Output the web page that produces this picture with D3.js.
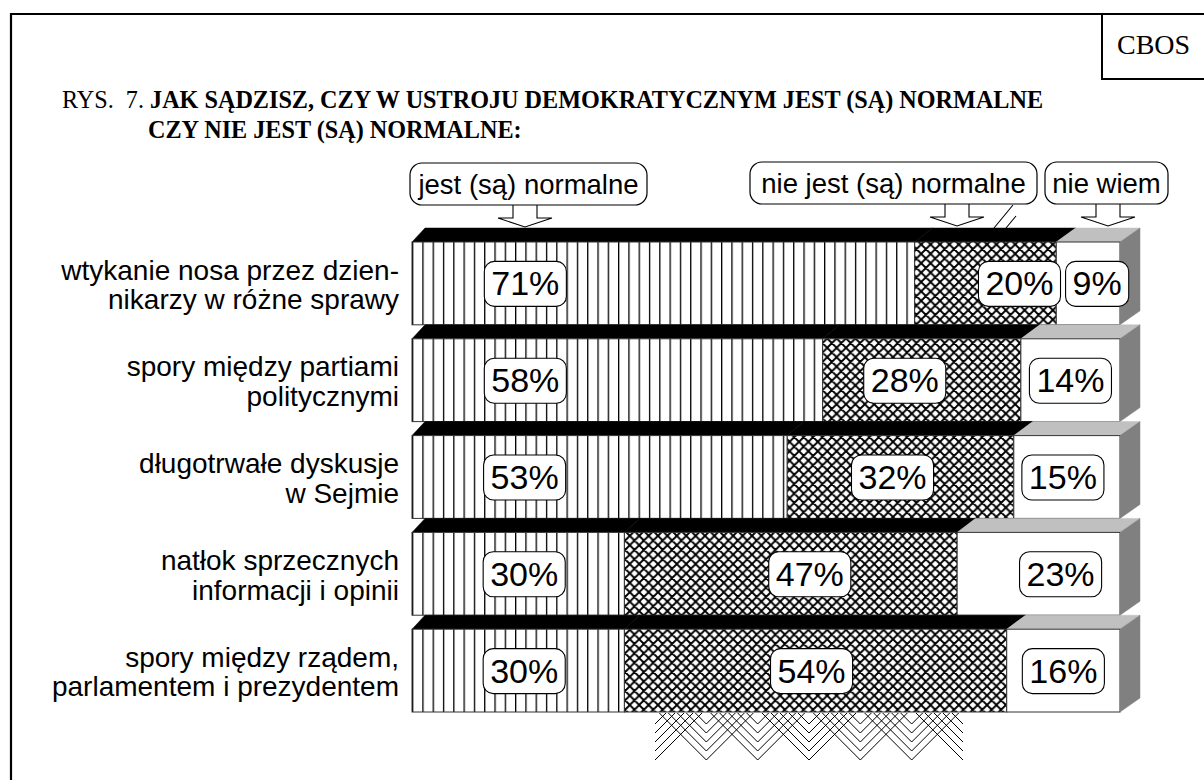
<!DOCTYPE html>
<html>
<head>
<meta charset="utf-8">
<script src="https://cdn.jsdelivr.net/npm/d3@7"></script>
<style>
  body { margin: 0; background: #fff; }
  svg { display: block; }
</style>
</head>
<body>
<div id="chart"></div>
<script>
// ========= Data ========= //
const categories = [
  ['wtykanie nosa przez dzien-', 'nikarzy w różne sprawy'],
  ['spory między partiami', 'politycznymi'],
  ['długotrwałe dyskusje', 'w Sejmie'],
  ['natłok sprzecznych', 'informacji i opinii'],
  ['spory między rządem,', 'parlamentem i prezydentem']
];
const seriesNames = ['jest (są) normalne', 'nie jest (są) normalne', 'nie wiem'];
const jest = [71, 58, 53, 30, 30];
const nieJest = [20, 28, 32, 47, 54];
const nieWiem = [9, 14, 15, 23, 16];

// label nudges (px) from the segment centre
const labelNudge = [
  [-138, -92, -75, 6, 6],
  [34, -17, -8, 19, -4],
  [9, 0, -4, 22, 0]
];

// ========= Setup ========= //
const width = 1204, height = 780;
const sans = '"Liberation Sans", Arial, sans-serif';
const serif = '"Liberation Serif", "Times New Roman", serif';
const keys = ['jest', 'nieJest', 'nieWiem'];
const rows = categories.map((c, i) => ({ i, jest: jest[i], nieJest: nieJest[i], nieWiem: nieWiem[i] }));
const stacked = d3.stack().keys(keys)(rows);

const x = d3.scaleLinear().domain([0, 100]).range([412, 1120]);
const y = d3.scaleBand().domain(d3.range(categories.length)).range([228, 712]);
const depth = 14;
const dx = v => 13 + 7 * (v - x(0)) / (x(100) - x(0));

const svg = d3.select('#chart').append('svg')
  .attr('width', width)
  .attr('height', height);

// ========= Patterns ========= //
const defs = svg.append('defs');
const stripes = defs.append('pattern')
  .attr('id', 'stripes').attr('patternUnits', 'userSpaceOnUse')
  .attr('width', 10.3).attr('height', 10);
stripes.append('rect').attr('width', 10.3).attr('height', 10).attr('fill', '#fff');
stripes.append('rect').attr('x', 0).attr('width', 1.3).attr('height', 10).attr('fill', '#000');

const hatch = defs.append('pattern')
  .attr('id', 'hatch').attr('patternUnits', 'userSpaceOnUse')
  .attr('width', 9.4).attr('height', 9.4);
hatch.append('rect').attr('width', 9.4).attr('height', 9.4).attr('fill', '#fff');
hatch.append('path')
  .attr('d', 'M-2,-2L11.4,11.4M-2,11.4L11.4,-2M-2,7.4L2,11.4M7.4,-2L11.4,2M-2,2L2,-2M7.4,11.4L11.4,7.4')
  .attr('stroke', '#000').attr('stroke-width', 1.9);

const frontFill = ['url(#stripes)', 'url(#hatch)', '#fff'];
const topFill = ['#000', '#000', '#c0c0c0'];

// ========= Frame ========= //
svg.append('path')
  .attr('d', `M11,${height}V14H${width}`)
  .attr('fill', 'none').attr('stroke', '#000').attr('stroke-width', 2.2);
svg.append('path')
  .attr('d', `M1102,14V79H${width}`)
  .attr('fill', 'none').attr('stroke', '#000').attr('stroke-width', 2);
svg.append('text')
  .attr('x', 1117).attr('y', 54)
  .attr('font-family', serif).attr('font-size', 28)
  .text('CBOS');

// ========= Title ========= //
const t1 = svg.append('text')
  .attr('x', 62).attr('y', 108)
  .attr('font-family', serif).attr('font-size', 24.2);
t1.append('tspan').text('RYS.\u00a0\u00a07. ');
t1.append('tspan').attr('font-weight', 'bold')
  .text('JAK SĄDZISZ, CZY W USTROJU DEMOKRATYCZNYM JEST (SĄ) NORMALNE');
svg.append('text')
  .attr('x', 148).attr('y', 138)
  .attr('font-family', serif).attr('font-size', 24.2).attr('font-weight', 'bold')
  .text('CZY NIE JEST (SĄ) NORMALNE:');

// ========= Legend callouts ========= //
const legend = [
  { box: [410, 163, 237, 42], arrow: 525 },
  { box: [750, 162, 287, 42], arrow: 957 },
  { box: [1045, 162, 123, 42], arrow: 1108 }
];
legend.forEach((l, k) => {
  const [bx, by, bw, bh] = l.box;
  const bb = by + bh;
  const cx = l.arrow;
  svg.append('path')
    .attr('d', `M${cx - 12},${bb}V${bb + 13}H${cx - 27}L${cx},${bb + 22}L${cx + 27},${bb + 13}H${cx + 12}V${bb}`)
    .attr('fill', '#fff').attr('stroke', '#000').attr('stroke-width', 1.1);
  svg.append('rect')
    .attr('x', bx).attr('y', by).attr('width', bw).attr('height', bh)
    .attr('rx', 12)
    .attr('fill', '#fff').attr('stroke', '#000').attr('stroke-width', 1.2);
  svg.append('text')
    .attr('x', bx + bw / 2).attr('y', by + bh / 2 + 9.5)
    .attr('text-anchor', 'middle')
    .attr('font-family', sans).attr('font-size', 27.5)
    .text(seriesNames[k]);
});
// stray strokes under the middle callout
svg.append('path')
  .attr('d', 'M1013,205L994,228M1016,216L1006,228')
  .attr('stroke', '#000').attr('stroke-width', 1.1);

// ========= Bars ========= //
const bars = svg.append('g');
rows.forEach((r, i) => {
  const bt = y(i);
  const ft = bt + depth;
  const fb = bt + y.bandwidth();
  const g = bars.append('g');

  stacked.forEach((s, k) => {
    const x0 = x(s[i][0]), x1 = x(s[i][1]);
    // top face
    g.append('path')
      .attr('d', `M${x0},${ft}L${x0 + dx(x0)},${bt}L${x1 + dx(x1)},${bt}L${x1},${ft}Z`)
      .attr('fill', topFill[k]).attr('stroke', topFill[k]).attr('stroke-width', 0.5);
    // front face
    g.append('rect')
      .attr('x', x0).attr('y', ft)
      .attr('width', x1 - x0).attr('height', fb - ft)
      .attr('fill', frontFill[k])
      .attr('stroke', '#333').attr('stroke-width', 1);
  });

  // side face
  const xe = x(100);
  g.append('path')
    .attr('d', `M${xe},${ft}L${xe + dx(xe)},${bt}L${xe + dx(xe)},${fb - depth}L${xe},${fb}Z`)
    .attr('fill', '#808080').attr('stroke', '#808080').attr('stroke-width', 0.5);

  // category label
  const lt = g.append('text')
    .attr('text-anchor', 'end')
    .attr('font-family', sans).attr('font-size', 28);
  categories[i].forEach((line, j) => {
    lt.append('tspan')
      .attr('x', 399)
      .attr('y', (ft + fb) / 2 + 11 + (j - 0.5) * 29.5)
      .text(line);
  });

  // value labels
  stacked.forEach((s, k) => {
    const cx = (x(s[i][0]) + x(s[i][1])) / 2 + labelNudge[k][i];
    const cy = (ft + fb) / 2;
    const lg = g.append('g');
    const txt = lg.append('text')
      .attr('x', cx).attr('y', cy + 12)
      .attr('text-anchor', 'middle')
      .attr('font-family', sans).attr('font-size', 34)
      .text(s[i].data[keys[k]] + '%');
    const w = txt.node().getComputedTextLength() + 14;
    lg.insert('rect', 'text')
      .attr('x', cx - w / 2).attr('y', cy - 22)
      .attr('width', w).attr('height', 45)
      .attr('rx', 10)
      .attr('fill', '#fff').attr('stroke', '#000').attr('stroke-width', 1.1);
  });
});

// ========= Zigzag fringe under the last bar ========= //
const fringeTop = y(categories.length - 1) + y.bandwidth();
defs.append('clipPath').attr('id', 'fringe-clip')
  .append('rect')
  .attr('x', 655).attr('y', fringeTop + 1)
  .attr('width', 308).attr('height', 60);
const fringe = svg.append('g').attr('clip-path', 'url(#fringe-clip)');
const tips = d3.range(7).map(k => 655 + k * 308 / 6);
tips.forEach(tx => {
  d3.range(5).forEach(j => {
    const ty = 760 - j * 9;
    fringe.append('path')
      .attr('d', `M${tx - 52},${ty - 52}L${tx},${ty}L${tx + 52},${ty - 52}`)
      .attr('fill', 'none').attr('stroke', '#000').attr('stroke-width', 1);
  });
});
</script>
</body>
</html>
